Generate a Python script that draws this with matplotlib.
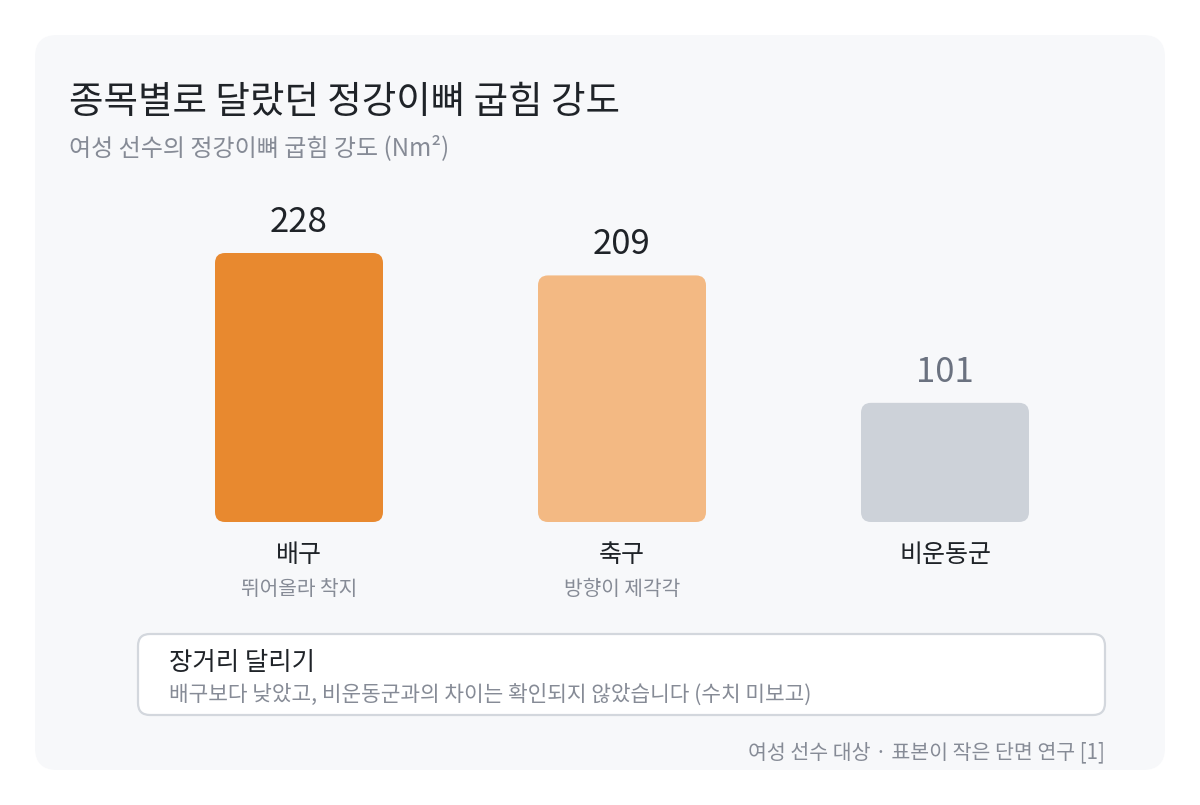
import matplotlib
matplotlib.use("Agg")
import matplotlib.pyplot as plt
from matplotlib.patches import FancyBboxPatch

plt.rcParams['font.family'] = ['Noto Sans CJK KR', 'DejaVu Sans']

# ---- data ----
categories = ["배구", "축구", "비운동군"]
sublabels = ["뛰어올라 착지", "방향이 제각각", ""]
values = [228, 209, 101]
bar_colors = ["#e8892f", "#f3b983", "#cdd2d9"]
value_colors = ["#1f2328", "#1f2328", "#6b7280"]

title = "종목별로 달랐던 정강이뼈 굽힘 강도"
subtitle = "여성 선수의 정강이뼈 굽힘 강도 (Nm²)"
note_title = "장거리 달리기"
note_body = "배구보다 낮았고, 비운동군과의 차이는 확인되지 않았습니다 (수치 미보고)"
footer = "여성 선수 대상 · 표본이 작은 단면 연구 [1]"

W, H = 1200, 805
fig = plt.figure(figsize=(W / 100, H / 100), dpi=100)
fig.patch.set_facecolor("white")

# background / decoration axes in pixel coordinates
bg = fig.add_axes([0, 0, 1, 1])
bg.set_xlim(0, W)
bg.set_ylim(H, 0)
bg.axis("off")

card = FancyBboxPatch((35, 35), 1130, 735, boxstyle="round,pad=0,rounding_size=22",
                      facecolor="#f7f8fa", edgecolor="none")
bg.add_patch(card)

note = FancyBboxPatch((138, 634), 967, 81, boxstyle="round,pad=0,rounding_size=12",
                      facecolor="white", edgecolor="#d3d7dd", linewidth=1.6)
bg.add_patch(note)

bg.text(69, 102, title, fontsize=27, color="#1f2328", va="center", ha="left")
bg.text(69, 148, subtitle, fontsize=17.3, color="#868b96", va="center", ha="left")
bg.text(169, 663, note_title, fontsize=18.3, color="#1f2328", va="center", ha="left")
bg.text(169, 695, note_body, fontsize=15.4, color="#868b96", va="center", ha="left")
bg.text(1105, 752, footer, fontsize=14.8, color="#868b96", va="center", ha="right")

# bar axes
px_per_unit = 269 / 228
ax_left, ax_right = 137.5, 1106.5
ax_bottom_px, ax_top_px = 522, 190
ax = fig.add_axes([ax_left / W, 1 - ax_bottom_px / H,
                   (ax_right - ax_left) / W, (ax_bottom_px - ax_top_px) / H])
ax.set_xlim(-0.5, 2.5)
ax.set_ylim(0, (ax_bottom_px - ax_top_px) / px_per_unit)
ax.axis("off")
ax.patch.set_alpha(0)

x = list(range(len(categories)))
bw = 168 / 323
bars = ax.bar(x, values, width=bw, color=bar_colors)

x_px = (ax_right - ax_left) / 3.0  # px per x unit
aspect = x_px / px_per_unit
r = 10 / x_px
for rect, c in zip(bars, bar_colors):
    rect.set_visible(False)
    fb = FancyBboxPatch((rect.get_x(), rect.get_y()), rect.get_width(), rect.get_height(),
                        boxstyle=f"round,pad=0,rounding_size={r}",
                        mutation_aspect=aspect, facecolor=c, edgecolor="none")
    ax.add_patch(fb)

for xi, v, vc in zip(x, values, value_colors):
    ax.annotate(f"{v}", (xi, v), xytext=(0, 22), textcoords="offset points",
                ha="center", va="center", fontsize=25, color=vc)

for xi, cat, sub in zip(x, categories, sublabels):
    ax.annotate(cat, (xi, 0), xytext=(0, -24), textcoords="offset points",
                ha="center", va="center", fontsize=18, color="#1f2328",
                annotation_clip=False)
    if sub:
        ax.annotate(sub, (xi, 0), xytext=(0, -48.5), textcoords="offset points",
                    ha="center", va="center", fontsize=14.6, color="#868b96",
                    annotation_clip=False)

fig.savefig("out.png", dpi=100, facecolor="white")
